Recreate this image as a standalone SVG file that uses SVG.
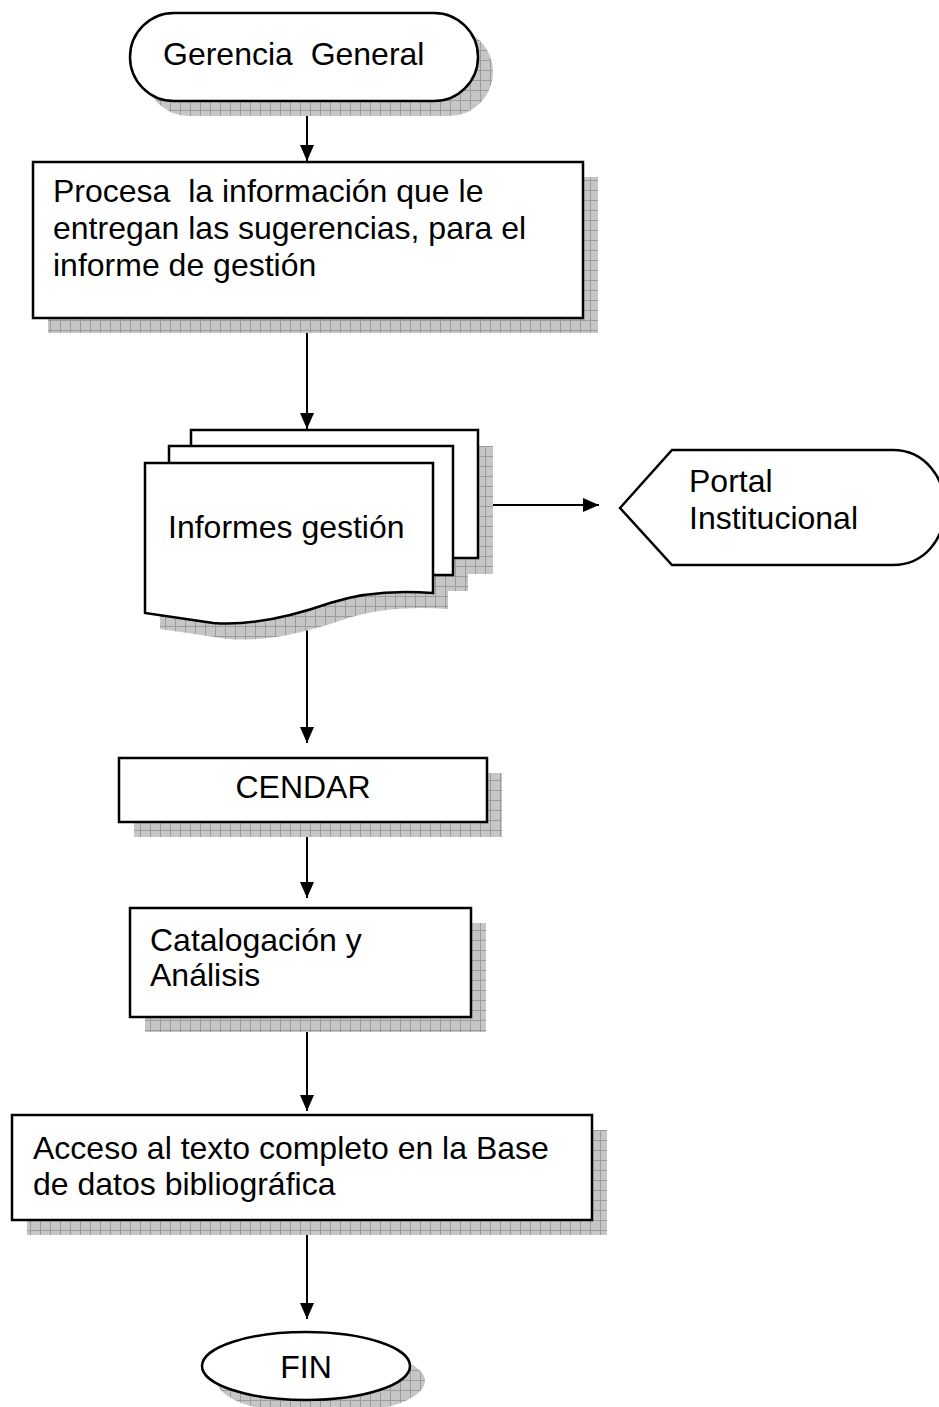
<svg xmlns="http://www.w3.org/2000/svg" width="939" height="1407" viewBox="0 0 939 1407">
<style>
.shape{fill:#fff;stroke:#000;stroke-width:2.5}
.shadow{fill:url(#grid)}
.lbl{font-family:"Liberation Sans",Arial,sans-serif;font-size:32px;fill:#000}
.conn{stroke:#000;stroke-width:2;fill:none}
</style>
<defs>
<pattern id="grid" width="10" height="10" patternUnits="userSpaceOnUse">
<rect width="10" height="10" fill="#c6c6c6"/>
<path d="M0,0.5H10M0.5,0V10" stroke="#9c9c9c" stroke-width="1"/>
</pattern>
<marker id="arr" viewBox="0 0 16 14" refX="16" refY="7" markerWidth="16" markerHeight="14" markerUnits="userSpaceOnUse" orient="auto">
<path d="M0,0L16,7L0,14Z" fill="#000"/>
</marker>
</defs>
<g id="connectors">
<line class="conn" x1="307" y1="100" x2="307" y2="161" marker-end="url(#arr)"/>
<line class="conn" x1="307" y1="318" x2="307" y2="429" marker-end="url(#arr)"/>
<line class="conn" x1="307" y1="630" x2="307" y2="743" marker-end="url(#arr)"/>
<line class="conn" x1="307" y1="822" x2="307" y2="898" marker-end="url(#arr)"/>
<line class="conn" x1="307" y1="1017" x2="307" y2="1111" marker-end="url(#arr)"/>
<line class="conn" x1="307" y1="1220" x2="307" y2="1319" marker-end="url(#arr)"/>
<line class="conn" x1="486" y1="505" x2="599" y2="505" marker-end="url(#arr)"/>
</g>
<g id="gerencia">
<rect class="shadow" x="145" y="28" width="348" height="88" rx="44"/>
<rect class="shape" x="130" y="13" width="348" height="88" rx="44"/>
<text class="lbl" x="163" y="65">Gerencia&#160; General</text>
</g>
<g id="procesa">
<rect class="shadow" x="48" y="177" width="550" height="156"/>
<rect class="shape" x="33" y="162" width="550" height="156"/>
<text class="lbl" x="53" y="202">Procesa&#160; la información que le</text>
<text class="lbl" x="53" y="239">entregan las sugerencias, para el</text>
<text class="lbl" x="53" y="276">informe de gestión</text>
</g>
<g id="informes">
<g transform="translate(15,16)" class="shadow">
<rect x="191" y="430" width="287" height="128"/>
<rect x="169" y="446" width="284" height="129"/>
<path d="M145,463H433V593C395,590 360,593 330,603C290,617 250,626 213,623L145,613Z"/>
</g>
<rect class="shape" x="191" y="430" width="287" height="128"/>
<rect class="shape" x="169" y="446" width="284" height="129"/>
<path class="shape" d="M145,463H433V593C395,590 360,593 330,603C290,617 250,626 213,623L145,613Z"/>
<text class="lbl" x="168" y="538">Informes gestión</text>
</g>
<g id="portal">
<path class="shape" d="M620,508L672,450H893C925,450 945,478 945,508C945,538 925,565 893,565H672Z"/>
<text class="lbl" x="689" y="492">Portal</text>
<text class="lbl" x="689" y="529">Institucional</text>
</g>
<g id="cendar">
<rect class="shadow" x="134" y="773" width="368" height="64"/>
<rect class="shape" x="119" y="758" width="368" height="64"/>
<text class="lbl" x="303" y="798" text-anchor="middle">CENDAR</text>
</g>
<g id="catalogacion">
<rect class="shadow" x="145" y="923" width="341" height="109"/>
<rect class="shape" x="130" y="908" width="341" height="109"/>
<text class="lbl" x="150" y="951">Catalogación y</text>
<text class="lbl" x="150" y="986">Análisis</text>
</g>
<g id="acceso">
<rect class="shadow" x="27" y="1130" width="580" height="105"/>
<rect class="shape" x="12" y="1115" width="580" height="105"/>
<text class="lbl" x="33" y="1159">Acceso al texto completo en la Base</text>
<text class="lbl" x="33" y="1195">de datos bibliográfica</text>
</g>
<g id="fin">
<ellipse class="shadow" cx="321" cy="1381" rx="104" ry="34"/>
<ellipse class="shape" cx="306" cy="1366" rx="104" ry="34"/>
<text class="lbl" x="306" y="1378" text-anchor="middle">FIN</text>
</g>
</svg>
